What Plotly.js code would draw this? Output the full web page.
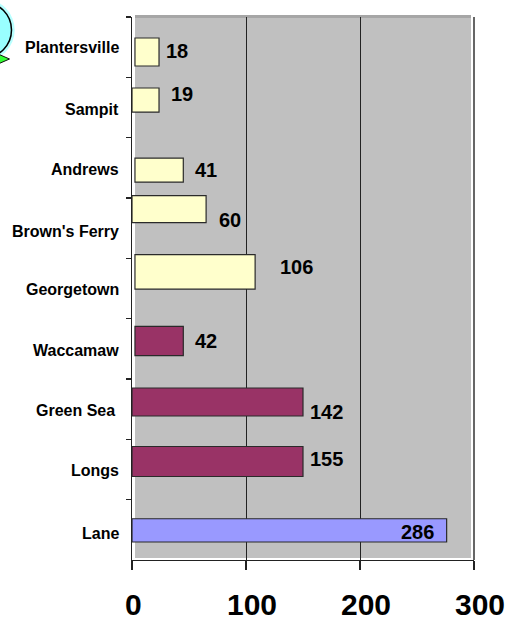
<!DOCTYPE html>
<html><head><meta charset="utf-8">
<script src="https://cdn.plot.ly/plotly-3.0.1.min.js"></script>
<style>html,body{margin:0;padding:0;background:#fff}</style></head>
<body><div id="chart" style="width:516px;height:620px"></div>
<script>
var categories = ["Plantersville","Sampit","Andrews","Brown's Ferry","Georgetown","Waccamaw","Green Sea ","Longs","Lane"];
var categoryLabelY = [48,109,170,231,289,350,410,470,533];
var valueLabels = ["18","19","41","60","106","42","142","155","286"];
var barEnds = [23.7,23.7,45,65,108,45,150,150,276];
var barBases = [2.6,0,2.6,0,2.6,2.6,0,0,0];
var barColors = ["#ffffcc","#ffffcc","#ffffcc","#ffffcc","#ffffcc","#993366","#993366","#993366","#9999ff"];
var barOffsets = [-0.152,-0.323,-0.162,-0.539,-0.560,-0.373,-0.351,-0.381,-0.184];
var barWidths = [0.464,0.398,0.398,0.448,0.569,0.487,0.464,0.497,0.386];
var labelX = [39.7,44,64.7,86.2,144,65,171,171,250];
var labelY = [0.07,0.78,2.04,2.86,3.65,4.87,6.04,6.83,8.03];
var xTicks = [0,100,200,300];
var xTickShift = [1,6,6,6];

var L=132,T=17,W=342,H=543;
function px(x){return (x-L)/W;}
function py(y){return (T+H-y)/H;}
var bars = {
  type:'bar', orientation:'h', y:categories,
  x:barEnds.map(function(e,i){return e-barBases[i];}),
  base:barBases, offset:barOffsets, width:barWidths,
  marker:{color:barColors,line:{color:'#2a2a2a',width:1.2}},
  hoverinfo:'skip', cliponaxis:false
};
var annotations = valueLabels.map(function(t,i){
  return {text:t,x:labelX[i],y:labelY[i],xref:'x',yref:'y',showarrow:false,
    font:{family:'Liberation Sans',size:20,color:'#000',weight:700}};
}).concat(xTicks.map(function(v,i){
  return {text:String(v),x:v,xref:'x',y:py(604),yref:'paper',yanchor:'middle',xshift:xTickShift[i],showarrow:false,
    font:{family:'Liberation Sans',size:30,color:'#000',weight:700}};
})).concat(categories.map(function(c,i){
  return {text:c.trim(),x:px(c===c.trim()?121:117),xref:'paper',xanchor:'right',y:py(categoryLabelY[i]),yref:'paper',yanchor:'middle',
    showarrow:false,font:{family:'Liberation Sans',size:16,color:'#000',weight:700}};
}));
function circle(cx,cy,r,fill,line,lw){
  return {type:'circle',xref:'paper',yref:'paper',x0:px(cx-r),x1:px(cx+r),y0:py(cy+r),y1:py(cy-r),
    fillcolor:fill,line:{color:line,width:lw},layer:'above'};
}
var shapes = [
  {type:'rect',xref:'paper',yref:'paper',x0:px(135),x1:px(471),y0:py(558),y1:py(15),fillcolor:'#c0c0c0',line:{width:0},layer:'below'},
  {type:'rect',xref:'paper',yref:'paper',x0:px(135),x1:px(471),y0:py(18),y1:py(15),fillcolor:'#a6a6a6',line:{width:0},layer:'below'},
  {type:'line',xref:'paper',yref:'paper',x0:1,x1:1,y0:0,y1:py(17),line:{color:'#333',width:1.5},layer:'below'},
  circle(-16.3,30,31,'#b8ffff','rgba(0,0,0,0)',0),
  {type:'path',xref:'paper',yref:'paper',layer:'above',fillcolor:'#33ff33',line:{color:'#111',width:1},
   path:'M'+px(-2)+' '+py(54)+' L'+px(9.5)+' '+py(59)+' L'+px(-2)+' '+py(64)+' Z'},
  circle(-16.3,30,27.8,'#99ffff','#000',1.5)
];
Plotly.newPlot('chart',[bars],{
  width:516,height:620,showlegend:false,
  paper_bgcolor:'#fff',plot_bgcolor:'rgba(0,0,0,0)',
  margin:{l:L,r:42,t:T,b:60,pad:0},
  bargap:0,
  xaxis:{range:[0,300],tickvals:xTicks,showticklabels:false,ticks:'outside',ticklen:9,tickwidth:1.2,tickcolor:'#222',
    showgrid:true,gridcolor:'#222',gridwidth:1,zeroline:false,showline:true,linecolor:'#222',linewidth:1.2},
  yaxis:{type:'category',categoryorder:'array',categoryarray:categories,range:[8.5,-0.5],tickson:'boundaries',
    ticks:'outside',ticklen:5,tickwidth:1.2,tickcolor:'#222',showgrid:false,zeroline:false,showticklabels:false,
    showline:true,linecolor:'#222',linewidth:1.2},
  annotations:annotations,shapes:shapes
},{displayModeBar:false,staticPlot:true});
</script></body></html>
